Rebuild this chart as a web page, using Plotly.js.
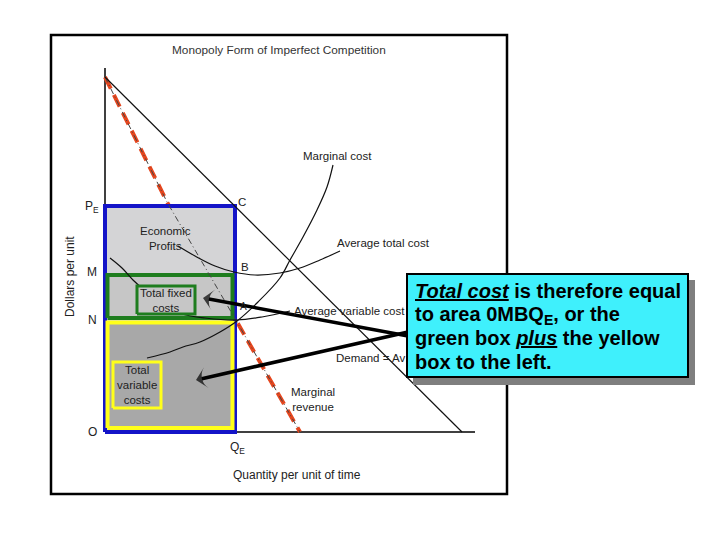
<!DOCTYPE html>
<html>
<head>
<meta charset="utf-8">
<script src="https://cdn.plot.ly/plotly-3.0.1.min.js"></script>
<style>html,body{margin:0;padding:0;background:#fff;}#chart{width:720px;height:540px;}</style>
</head>
<body>
<div id="chart"></div>
<script>
// ---- Data (quantity units / dollar units) ----
const demandQ = [0, 35.7];
const demandP = [35.5, 0];
const mrQ = [0, 6.2, 13.2, 19.5];
const mrP = [35.5, 23.0, 11.0, 0];
const mcQ = [4.2, 6.5, 7.8, 9.5, 11.5, 13.2, 15.3, 17.5, 18.5, 19.8, 21.2, 22.2, 22.8];
const mcP = [7.4, 8.0, 8.5, 9.0, 10.0, 11.1, 13.0, 15.4, 17.2, 19.5, 22.2, 24.5, 26.7];
const atcQ = [7.3, 9.0, 11.0, 12.9, 15.0, 17.5, 19.5, 21.5, 23.5];
const atcP = [18.6, 17.6, 16.6, 16.0, 15.7, 15.9, 16.4, 17.2, 18.1];
const avcQ = [0.5, 1.7, 2.8, 4.5, 6.0, 7.7, 10.0, 13.2, 15.7, 18.5];
const avcP = [17.4, 16.4, 15.2, 13.7, 12.6, 11.8, 11.4, 11.2, 11.5, 12.1];
const QE = 13.0;       // equilibrium quantity
const PE = 22.6;       // monopoly price
const M_LEVEL = 16.0;  // ATC at QE
const N_LEVEL = 11.2;  // AVC at QE
const priceTickLabels = ["P<sub>E</sub>", "M", "N", "O"];
const priceTickValues = [PE, M_LEVEL, N_LEVEL, 0];
const boxText = [
  "<i><u>Total cost</u></i> is therefore equal",
  "to area 0MBQ<sub>E</sub>, or the",
  "green box <i><u>plus</u></i> the yellow",
  "box to the left."
];
// callout arrows: [tail, head] in chart units
const arrowFixedQ = [30.3, 9.8];
const arrowFixedP = [9.6, 13.4];
const arrowVarQ = [30.3, 9.1];
const arrowVarP = [10.0, 5.2];

const FONT = "Liberation Sans, Arial, Helvetica, sans-serif";
function rect(x0, x1, y0, y1) {
  return {x: [x0, x1, x1, x0, x0], y: [y0, y0, y1, y1, y0]};
}
function boxTrace(r, fill, lineColor, lw) {
  return {type: 'scatter', mode: 'lines', x: r.x, y: r.y, fill: 'toself',
    fillcolor: fill, line: {color: lineColor, width: lw}, hoverinfo: 'skip', showlegend: false};
}
function lineTrace(x, y, color, width, dash, shape) {
  return {type: 'scatter', mode: 'lines', x: x, y: y, line: {color: color, width: width, dash: dash || 'solid', shape: shape || 'linear'},
    hoverinfo: 'skip', showlegend: false};
}
function arrowTrace(x, y) {
  return {type: 'scatter', mode: 'lines+markers', x: x, y: y, line: {color: '#000', width: 3.5},
    marker: {symbol: 'arrow-wide', size: [0, 15], angleref: 'previous', color: '#000', line: {width: 0}},
    hoverinfo: 'skip', showlegend: false};
}

const traces = [
  lineTrace(mrQ, mrP, '#E5461E', 4, '13px,7px'),
  boxTrace(rect(0, QE, 0, PE), '#d4d4d6', '#1414c8', 4),
  boxTrace(rect(0.25, QE - 0.25, N_LEVEL + 0.2, M_LEVEL - 0.3), '#c6c6c6', '#1e7d1e', 4),
  boxTrace(rect(0.25, QE - 0.25, 0.4, N_LEVEL - 0.25), '#a8a8a8', '#ffff1a', 4),
  lineTrace(mrQ, mrP, '#444', 1, '6px,3px,1px,3px'),
  lineTrace(demandQ, demandP, '#111', 1.2),
  lineTrace(mcQ, mcP, '#111', 1.2, 'solid', 'spline'),
  lineTrace(atcQ, atcP, '#111', 1.2, 'solid', 'spline'),
  lineTrace(avcQ, avcP, '#111', 1.2, 'solid', 'spline'),
  boxTrace(rect(3.2, 9.0, 11.8, 14.6), '#c6c6c6', '#1e7d1e', 3),
  boxTrace(rect(0.8, 5.6, 2.4, 7.0), '#a8a8a8', '#ffff1a', 3),
  arrowTrace(arrowFixedQ, arrowFixedP),
  arrowTrace(arrowVarQ, arrowVarP)
];

function lbl(text, x, y, opts) {
  return Object.assign({text: text, x: x, y: y, xref: 'x', yref: 'y', showarrow: false,
    font: {family: FONT, size: 11.5, color: '#222'}, xanchor: 'center', yanchor: 'middle', align: 'center'}, opts || {});
}

const annotations = [
  lbl('Monopoly Form of Imperfect Competition', 17.4, 38.2, {font: {family: FONT, size: 11.8, color: '#333'}}),
  lbl('Dollars per unit', -3.5, 15.5, {textangle: -90, font: {family: FONT, size: 12, color: '#222'}}),
  lbl('Quantity per unit of time', 19.2, -4.3, {font: {family: FONT, size: 12, color: '#222'}}),
  lbl('Q<sub>E</sub>', 13.2, -1.6, {font: {family: FONT, size: 12, color: '#222'}}),
  lbl('C', 13.7, 23.0),
  lbl('B', 14.0, 16.5),
  lbl('A', 13.8, 12.6, {font: {family: FONT, size: 10, color: '#222'}}),
  lbl('Marginal cost', 23.2, 27.6),
  lbl('Average total cost', 27.8, 18.9),
  lbl('Average variable cost', 24.4, 12.1),
  lbl('Demand = Av', 22.9, 7.4, {xanchor: 'left'}),
  lbl('Marginal<br>revenue', 20.8, 3.3),
  lbl('Economic<br>Profits', 6.0, 19.4),
  lbl('Total fixed<br>costs', 6.1, 13.2),
  lbl('Total<br>variable<br>costs', 3.2, 4.7)
];
priceTickLabels.forEach(function (t, i) {
  annotations.push(lbl(t, -1.3, priceTickValues[i] + (i === 0 ? -0.1 : 0), {font: {family: FONT, size: 12, color: '#222'}}));
});
// text box lines
const lineY = [14.1, 11.7, 9.4, 7.0];
boxText.forEach(function (t, i) {
  annotations.push({text: '<b>' + t + '</b>', x: 30.8, y: lineY[i], xref: 'x', yref: 'y', showarrow: false,
    xanchor: 'left', yanchor: 'middle', align: 'left', font: {family: FONT, size: 20, color: '#000'}});
});

const shapes = [
  {type: 'rect', xref: 'x', yref: 'y', x0: -5.4, x1: 40.2, y0: -6.2, y1: 39.7, line: {color: '#000', width: 2.5}, fillcolor: 'rgba(0,0,0,0)', layer: 'above'},
  {type: 'line', xref: 'x', yref: 'y', x0: 0, x1: 0, y0: 0, y1: 36.4, line: {color: '#000', width: 1.5}, layer: 'below'},
  {type: 'line', xref: 'x', yref: 'y', x0: 0, x1: 37.0, y0: 0, y1: 0, line: {color: '#000', width: 1.5}, layer: 'below'},
  {type: 'rect', xref: 'x', yref: 'y', x0: 30.8, x1: 59.0, y0: 4.7, y1: 15.2, line: {width: 0}, fillcolor: '#7f7f7f', layer: 'above'},
  {type: 'rect', xref: 'x', yref: 'y', x0: 30.2, x1: 58.3, y0: 5.5, y1: 15.8, line: {color: '#000', width: 2}, fillcolor: '#3ff0fc', layer: 'above'}
];

const layout = {
  width: 720, height: 540, autosize: false,
  margin: {l: 0, r: 0, t: 0, b: 0, pad: 0},
  paper_bgcolor: '#fff', plot_bgcolor: '#fff',
  xaxis: {range: [-10.5, 61.5], visible: false, fixedrange: true},
  yaxis: {range: [-10.8, 43.2], visible: false, fixedrange: true},
  showlegend: false,
  annotations: annotations,
  shapes: shapes
};
Plotly.newPlot('chart', traces, layout, {staticPlot: true, displayModeBar: false});
</script>
</body>
</html>
